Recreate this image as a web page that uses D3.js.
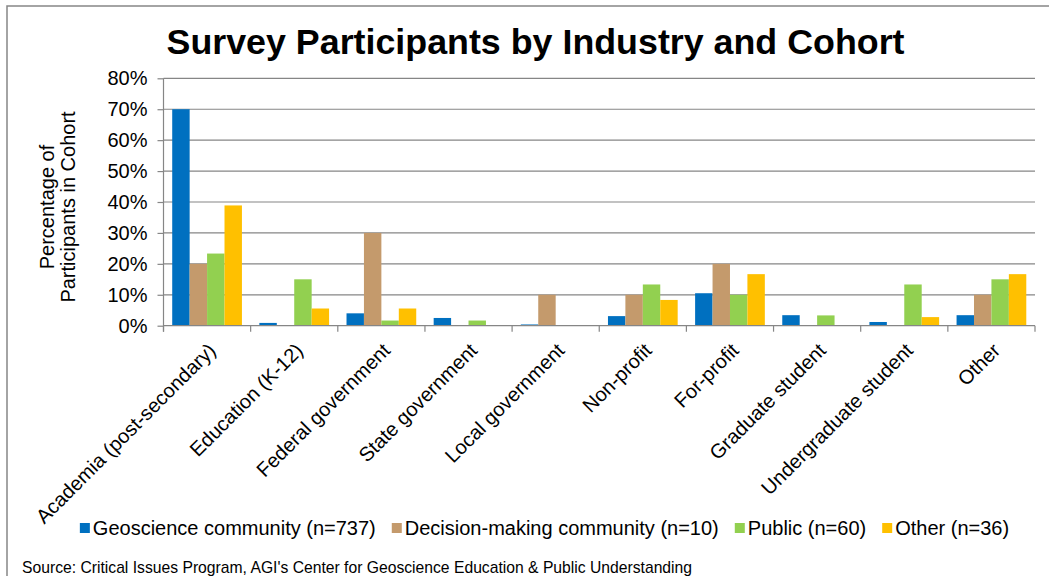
<!DOCTYPE html>
<html>
<head>
<meta charset="utf-8">
<script src="https://cdn.jsdelivr.net/npm/d3@7"></script>
<style>
  html, body { margin: 0; padding: 0; background: #fff; }
  svg { display: block; font-family: Arial, "Liberation Sans", sans-serif; }
</style>
</head>
<body>
<svg id="chart" width="1049" height="576"></svg>
<script>
// Industry categories along the x axis
const categories = [
  "Academia (post-secondary)", "Education (K-12)", "Federal government",
  "State government", "Local government", "Non-profit", "For-profit",
  "Graduate student", "Undergraduate student", "Other"
];

// Cohort series names (legend)
const seriesNames = [
  "Geoscience community (n=737)",
  "Decision-making community (n=10)",
  "Public (n=60)",
  "Other (n=36)"
];

// Share of each cohort in each industry (fraction)
const geoscience = [0.700, 0.009, 0.040, 0.025, 0.004, 0.031, 0.105, 0.034, 0.012, 0.034];
const decisionMaking = [0.20, 0.00, 0.30, 0.00, 0.10, 0.10, 0.20, 0.00, 0.00, 0.10];
const publicCohort = [0.2333, 0.1500, 0.0167, 0.0167, 0.0000, 0.1333, 0.1000, 0.0333, 0.1333, 0.1500];
const otherCohort = [0.3889, 0.0556, 0.0556, 0.0000, 0.0000, 0.0833, 0.1667, 0.0000, 0.0278, 0.1667];

const seriesValues = [geoscience, decisionMaking, publicCohort, otherCohort];
const seriesColors = ["#0070C0", "#C49A6C", "#92D050", "#FFC000"];

// Y axis ticks
const yTicks = [0, 0.1, 0.2, 0.3, 0.4, 0.5, 0.6, 0.7, 0.8];

const titleText = "Survey Participants by Industry and Cohort";
const yTitleLines = ["Percentage of", "Participants in Cohort"];
const sourceText = "Source: Critical Issues Program, AGI's Center for Geoscience Education & Public Understanding";

const svg = d3.select("#chart");
const gridColor = "#868686";

// Outer chart frame
svg.append("rect")
  .attr("x", 7).attr("y", 6)
  .attr("width", 1060).attr("height", 600)
  .attr("fill", "none")
  .attr("stroke", gridColor)
  .attr("stroke-width", 1.5);

const plot = { left: 163.5, right: 1035, top: 78.3, bottom: 325.7 };

const x = d3.scaleBand()
  .domain(categories)
  .range([plot.left, plot.right])
  .paddingInner(0).paddingOuter(0);

const xSub = d3.scaleBand()
  .domain(d3.range(seriesNames.length))
  .range([0, x.bandwidth()])
  .paddingInner(0).paddingOuter(0.5);

const y = d3.scaleLinear()
  .domain([0, 0.8])
  .range([plot.bottom, plot.top]);

// Horizontal gridlines
svg.append("g")
  .selectAll("line")
  .data(yTicks.filter(d => d > 0))
  .join("line")
  .attr("x1", plot.left).attr("x2", plot.right)
  .attr("y1", d => y(d)).attr("y2", d => y(d))
  .attr("stroke", gridColor)
  .attr("stroke-width", 1.2);

// Bars
const groups = svg.append("g")
  .selectAll("g")
  .data(categories)
  .join("g")
  .attr("transform", d => `translate(${x(d)},0)`);

groups.selectAll("rect")
  .data((c, i) => seriesValues.map((vals, s) => ({ s, v: vals[i] })))
  .join("rect")
  .attr("x", d => xSub(d.s))
  .attr("width", xSub.bandwidth())
  .attr("y", d => y(d.v))
  .attr("height", d => y(0) - y(d.v))
  .attr("fill", d => seriesColors[d.s]);

// Y axis
const yAxis = svg.append("g")
  .attr("transform", `translate(${plot.left},0)`)
  .call(d3.axisLeft(y).tickValues(yTicks).tickFormat(d3.format(".0%")).tickSize(6).tickPadding(10));
yAxis.select(".domain").attr("stroke", gridColor).attr("stroke-width", 1.2)
  .attr("d", `M0,${plot.top}V${plot.bottom + 6}`);
yAxis.selectAll(".tick line").attr("stroke", gridColor).attr("stroke-width", 1.2);
yAxis.selectAll(".tick text")
  .attr("font-size", 20).attr("fill", "#000")
  .attr("font-family", "Arial, 'Liberation Sans', sans-serif");

// X axis: line plus ticks on category boundaries
const xAxis = svg.append("g");
xAxis.append("line")
  .attr("x1", plot.left).attr("x2", plot.right)
  .attr("y1", plot.bottom).attr("y2", plot.bottom)
  .attr("stroke", gridColor).attr("stroke-width", 1.2);
const boundaries = categories.map(c => x(c) + x.bandwidth()).concat([x(categories[0])]);
xAxis.selectAll("line.tk")
  .data(boundaries)
  .join("line")
  .attr("class", "tk")
  .attr("x1", d => d).attr("x2", d => d)
  .attr("y1", plot.bottom).attr("y2", plot.bottom + 6)
  .attr("stroke", gridColor).attr("stroke-width", 1.2);

// Rotated category labels
xAxis.selectAll("text")
  .data(categories)
  .join("text")
  .attr("transform", d => `translate(${x(d) + x.bandwidth() / 2 + 10},${plot.bottom + 26}) rotate(-45)`)
  .attr("text-anchor", "end")
  .attr("font-size", 20)
  .attr("fill", "#000")
  .text(d => d);

// Title
svg.append("text")
  .attr("x", 535.5).attr("y", 54)
  .attr("text-anchor", "middle")
  .attr("font-size", 35.8)
  .attr("font-weight", "bold")
  .attr("fill", "#000")
  .text(titleText);

// Y axis title (two lines)
svg.append("g")
  .attr("transform", "translate(0,207)")
  .selectAll("text")
  .data(yTitleLines)
  .join("text")
  .attr("transform", (d, i) => `translate(${54 + i * 21},0) rotate(-90)`)
  .attr("text-anchor", "middle")
  .attr("font-size", 20)
  .attr("fill", "#000")
  .text(d => d);

// Legend
const legend = svg.append("g");
const items = legend.selectAll("g")
  .data(seriesNames)
  .join("g");
items.append("rect")
  .attr("width", 10).attr("height", 10)
  .attr("y", 523)
  .attr("fill", (d, i) => seriesColors[i]);
items.append("text")
  .attr("x", 13).attr("y", 535)
  .attr("font-size", 20)
  .attr("fill", "#000")
  .text(d => d);
let widths = [];
items.each(function () { widths.push(13 + d3.select(this).select("text").node().getComputedTextLength()); });
const gap = 16;
const total = d3.sum(widths) + gap * (widths.length - 1);
let cursor = 544.5 - total / 2;
items.attr("transform", (d, i) => {
  const t = `translate(${cursor},0)`;
  cursor += widths[i] + gap;
  return t;
});

// Source note
svg.append("text")
  .attr("x", 22).attr("y", 573)
  .attr("font-size", 15.7)
  .attr("fill", "#000")
  .text(sourceText);
</script>
</body>
</html>
